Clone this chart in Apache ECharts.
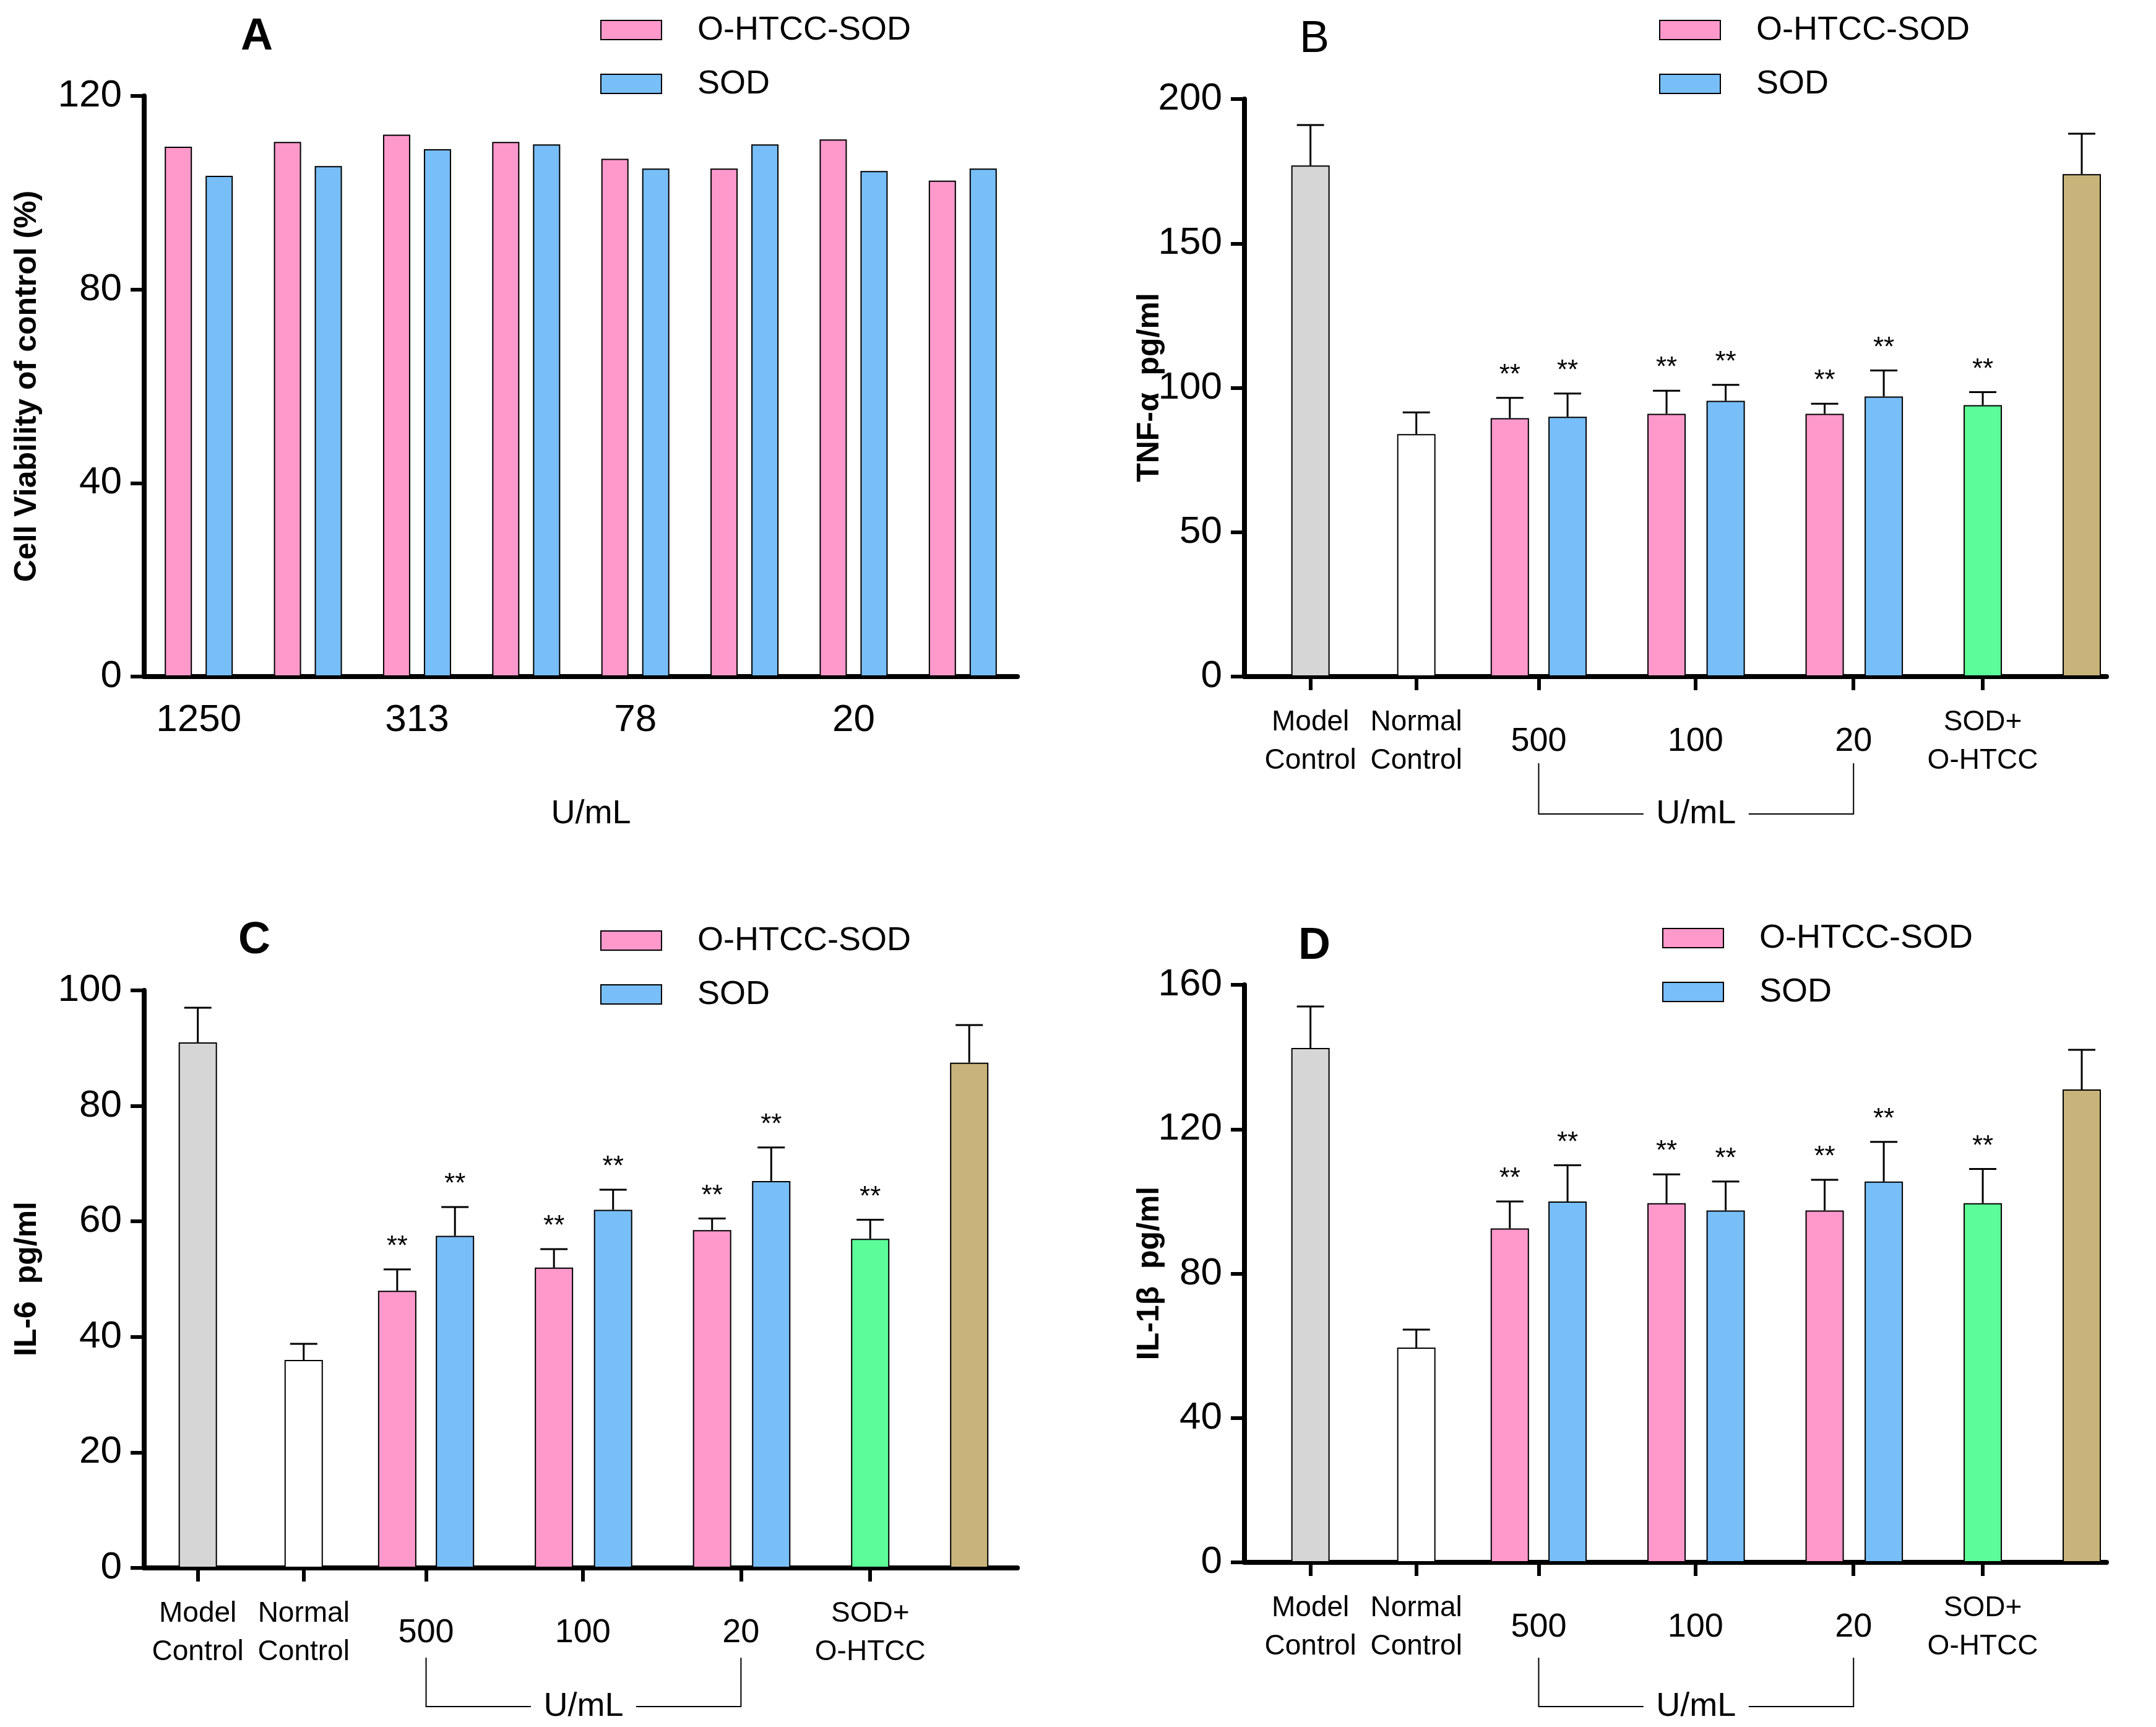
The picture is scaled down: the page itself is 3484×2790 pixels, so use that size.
<!DOCTYPE html>
<html>
<head>
<meta charset="utf-8">
<script src="https://cdn.jsdelivr.net/npm/echarts@6/dist/echarts.min.js"></script>
<style>html,body{margin:0;padding:0;background:#fff}#main{width:3484px;height:2790px}</style>
</head>
<body>
<div id="main"></div>
<script>
// panel A
var doseLabels = ['1250', '625', '313', '156', '78', '39', '20', '10'];
var viabConj = [109.5, 110.5, 112, 110.5, 107, 105, 111, 102.5];
var viabSod = [103.5, 105.5, 109, 110, 105, 110, 104.5, 105];

// panels B, C, D share the same groups
var groupLabels = ['Model\nControl', 'Normal\nControl', '500', '100', '20', 'SOD+\nO-HTCC', 'O-HTCC'];
var groupTicks = [48, 125, 214, 328, 443, 537, 609];
var barPos = [48, 125, 193, 235, 307, 350, 422, 465, 537, 609];
var barKind = ['model', 'normal', 'conj', 'sod', 'conj', 'sod', 'conj', 'sod', 'combo', 'ohtcc'];

var tnfMean = [177, 84, 89.5, 90, 91, 95.5, 91, 97, 94, 174];
var tnfErr = [14, 7.5, 7, 8, 8, 5.5, 3.5, 9, 4.5, 14];
var tnfStar = [0, 0, 1, 1, 1, 1, 1, 1, 1, 0];

var il6Mean = [91, 36, 48, 57.5, 52, 62, 58.5, 67, 57, 87.5];
var il6Err = [6, 2.8, 3.7, 5, 3.2, 3.5, 2, 5.8, 3.3, 6.5];
var il6Star = [0, 0, 1, 1, 1, 1, 1, 1, 1, 0];

var il1Mean = [142.5, 59.5, 92.5, 100, 99.5, 97.5, 97.5, 105.5, 99.5, 131];
var il1Err = [11.5, 5, 7.5, 10, 8, 8, 8.5, 11, 9.5, 11];
var il1Star = [0, 0, 1, 1, 1, 1, 1, 1, 1, 0];

var colors = {
    model: '#d6d6d6', normal: '#ffffff', conj: '#ff99cc', sod: '#78bef8',
    combo: '#5cfd98', ohtcc: '#c8b47a'
};

var FONT = 'Liberation Sans';
var NARROW = 'Liberation Sans Narrow, Liberation Sans';

var grids = [
    {left: 233, top: 155, width: 1411, height: 938},
    {left: 2011, top: 160, width: 1393, height: 933},
    {left: 233, top: 1600, width: 1411, height: 933},
    {left: 2011, top: 1591, width: 1393, height: 933}
];

function yAxis(idx, max, step) {
    return {
        type: 'value', gridIndex: idx, min: 0, max: max, interval: step,
        splitLine: {show: false},
        axisLine: {show: true, lineStyle: {color: '#000', width: 8}},
        axisTick: {show: true, length: 22, lineStyle: {color: '#000', width: 6}},
        axisLabel: {fontSize: 62, color: '#000', margin: 36, fontFamily: NARROW}
    };
}

function groupAxis(idx, min, max) {
    return {
        type: 'value', gridIndex: idx, min: min, max: max,
        splitLine: {show: false},
        axisLine: {show: true, onZero: false, lineStyle: {color: '#000', width: 8}},
        axisTick: {show: true, length: 22, customValues: groupTicks, lineStyle: {color: '#000', width: 6}},
        axisLabel: {
            customValues: groupTicks, margin: 105, verticalAlign: 'middle', lineHeight: 62,
            color: '#000', fontFamily: NARROW, fontSize: 46,
            formatter: function (v) {
                var i = groupTicks.indexOf(v);
                if (i < 0) return '';
                if (i >= 2 && i <= 4) return '{n|' + groupLabels[i] + '}';
                return groupLabels[i];
            },
            rich: {n: {fontSize: 54, fontFamily: NARROW, color: '#000'}}
        }
    };
}

function barSeries(axisIdx, means) {
    return {
        type: 'bar', xAxisIndex: axisIdx, yAxisIndex: axisIdx, barWidth: 62,
        data: barPos.map(function (x, i) {
            return {value: [x, means[i]], itemStyle: {color: colors[barKind[i]], borderColor: '#000', borderWidth: 2}};
        }),
        z: 2
    };
}

function errSeries(axisIdx, means, errs, stars) {
    return {
        type: 'custom', xAxisIndex: axisIdx, yAxisIndex: axisIdx, z: 3,
        data: barPos.map(function (x, i) { return [x, means[i], errs[i], stars[i]]; }),
        renderItem: function (params, api) {
            var p0 = api.coord([api.value(0), api.value(1)]);
            var p1 = api.coord([api.value(0), api.value(1) + api.value(2)]);
            var kids = [
                {type: 'line', shape: {x1: p0[0], y1: p0[1], x2: p1[0], y2: p1[1]}, style: {stroke: '#000', lineWidth: 3}},
                {type: 'line', shape: {x1: p1[0] - 22, y1: p1[1], x2: p1[0] + 22, y2: p1[1]}, style: {stroke: '#000', lineWidth: 3}}
            ];
            if (api.value(3)) {
                kids.push({type: 'text', x: p1[0], y: p1[1] - 14,
                    style: {text: '**', fontSize: 44, fontFamily: FONT, fill: '#000', align: 'center', verticalAlign: 'bottom'}});
            }
            return {type: 'group', children: kids};
        }
    };
}

function legend(x, y) {
    return [
        {type: 'rect', shape: {x: x, y: y, width: 98, height: 31}, style: {fill: colors.conj, stroke: '#000', lineWidth: 2}},
        {type: 'text', x: x + 156, y: y + 16, style: {text: 'O-HTCC-SOD', fontSize: 54, fontFamily: FONT, fill: '#000', verticalAlign: 'middle'}},
        {type: 'rect', shape: {x: x, y: y + 87, width: 98, height: 31}, style: {fill: colors.sod, stroke: '#000', lineWidth: 2}},
        {type: 'text', x: x + 156, y: y + 103, style: {text: 'SOD', fontSize: 54, fontFamily: FONT, fill: '#000', verticalAlign: 'middle'}}
    ];
}

function letter(t, x, y, bold) {
    return {type: 'text', x: x, y: y, style: {text: t, fontSize: 72, fontWeight: bold ? 'bold' : 'normal', fontFamily: FONT, fill: '#000', align: 'center', verticalAlign: 'middle'}};
}

function yName(t, x, y) {
    return {type: 'text', x: x, y: y, rotation: Math.PI / 2,
        style: {text: t, fontSize: 50, fontWeight: 'bold', fontFamily: FONT, fill: '#000', align: 'center', verticalAlign: 'middle'}};
}

var chart = echarts.init(document.getElementById('main'));

var option = {
    backgroundColor: '#fff',
    animation: false,
    grid: grids,
    xAxis: [
        {
            type: 'category', gridIndex: 0, data: doseLabels,
            axisLine: {lineStyle: {color: '#000', width: 8}},
            axisTick: {alignWithLabel: true, length: 22, lineStyle: {color: '#000', width: 6}},
            axisLabel: {fontSize: 62, color: '#000', margin: 40, fontFamily: NARROW}
        },
        groupAxis(1, 0, 627),
        groupAxis(2, 9, 644),
        groupAxis(3, 0, 627)
    ],
    yAxis: [yAxis(0, 120, 40), yAxis(1, 200, 50), yAxis(2, 100, 20), yAxis(3, 160, 40)],
    series: [
        {type: 'bar', xAxisIndex: 0, yAxisIndex: 0, data: viabConj, barWidth: 44, barGap: '50%',
            itemStyle: {color: colors.conj, borderColor: '#000', borderWidth: 2}},
        {type: 'bar', xAxisIndex: 0, yAxisIndex: 0, data: viabSod, barWidth: 44, barGap: '50%',
            itemStyle: {color: colors.sod, borderColor: '#000', borderWidth: 2}},
        barSeries(1, tnfMean), errSeries(1, tnfMean, tnfErr, tnfStar),
        barSeries(2, il6Mean), errSeries(2, il6Mean, il6Err, il6Star),
        barSeries(3, il1Mean), errSeries(3, il1Mean, il1Err, il1Star)
    ]
};
chart.setOption(option);

// annotations: legends, letters, axis names, U/mL brackets
var g = [];
g = g.concat(legend(971, 33), legend(2682, 33), legend(971, 1504), legend(2687, 1500));
g.push(letter('A', 415, 60, true), letter('B', 2124, 64, false), letter('C', 411, 1520, true), letter('D', 2124, 1529, true));
g.push(yName('Cell Viability of control (%)', 44, 624), yName('TNF-α  pg/ml', 1858, 626),
    yName('IL-6  pg/ml', 44, 2066), yName('IL-1β  pg/ml', 1858, 2057));
g.push({type: 'text', x: 955, y: 1315, style: {text: 'U/mL', fontSize: 54, fontFamily: FONT, fill: '#000', align: 'center', verticalAlign: 'middle'}});

function bracket(axisIdx, yTop, yBot) {
    var a = chart.convertToPixel({xAxisIndex: axisIdx}, groupTicks[2]);
    var b = chart.convertToPixel({xAxisIndex: axisIdx}, groupTicks[4]);
    var mid = (a + b) / 2;
    var ln = {stroke: '#000', lineWidth: 2};
    g.push({type: 'polyline', shape: {points: [[a, yTop], [a, yBot], [mid - 85, yBot]]}, style: ln});
    g.push({type: 'polyline', shape: {points: [[mid + 85, yBot], [b, yBot], [b, yTop]]}, style: ln});
    g.push({type: 'text', x: mid, y: yBot, style: {text: 'U/mL', fontSize: 54, fontFamily: FONT, fill: '#000', align: 'center', verticalAlign: 'middle'}});
}
bracket(1, 1233, 1315);
bracket(2, 2678, 2757);
bracket(3, 2678, 2757);

chart.setOption({graphic: g});
</script>
</body>
</html>
